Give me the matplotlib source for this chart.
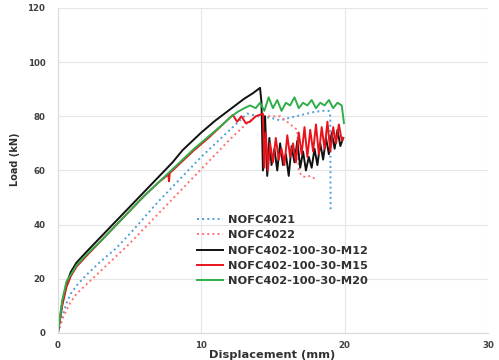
import matplotlib
matplotlib.use("Agg")
import matplotlib.pyplot as plt

# Load-displacement curves
x_4021 = [0, 0.3, 0.6, 0.9, 1.3, 2, 3, 4, 5, 6, 7, 8, 9, 10, 11, 12, 13.2,
          14.0, 14.8, 15.5, 16.2, 17.0, 17.8, 18.4, 18.9, 19.0, 19.02]
y_4021 = [0, 6, 11, 14.5, 17.5, 21.5, 26.5, 31, 36.5, 42.5, 48.5, 54, 59.5, 65,
          70, 75, 81, 80, 79.5, 78.5, 79.5, 80.5, 81.5, 82, 82, 80, 44.5]

x_4022 = [0, 0.3, 0.6, 0.9, 1.3, 2, 3, 4, 5, 6, 7, 8, 9, 10, 11, 12, 13, 13.9,
          14.6, 15.5, 16.1, 16.7, 16.8, 17.0, 17.3, 17.6, 17.9]
y_4022 = [0, 5, 8.5, 11.5, 14.5, 18, 23, 28, 33, 38.5, 44, 49.5, 55, 60.5, 66,
          71.5, 76.5, 80.5, 80, 80, 77.5, 75, 60, 58, 57.5, 58, 57]

x_m12 = [0, 0.3, 0.6, 0.9, 1.3, 2, 3, 4, 5, 6, 7, 8, 8.7, 10, 11, 12, 13, 13.6,
         14.1, 14.2, 14.3, 14.45, 14.6, 14.75, 14.9, 15.1, 15.3, 15.5, 15.7, 15.9,
         16.1, 16.3, 16.5, 16.7, 16.9, 17.1, 17.3, 17.5, 17.7, 17.9, 18.1, 18.3,
         18.5, 18.7, 18.9, 19.1, 19.3, 19.5, 19.7, 19.9]
y_m12 = [0, 11, 18, 22.5, 26, 30, 35.5, 41, 46.5, 52, 57.5, 63, 67.5, 74, 78.5,
         82.5, 86.5, 88.5, 90.5, 85, 60, 80, 58, 72, 62, 68, 60, 70, 62, 66, 58,
         69, 63, 71, 61, 67, 60, 65, 61, 68, 62, 70, 64, 72, 66, 74, 68, 75, 69,
         72]

x_m15 = [0, 0.3, 0.6, 0.9, 1.3, 2, 3, 4, 5, 6, 7, 7.7, 7.75, 7.8, 8.5, 9.5, 10.5,
         11.5, 11.9, 12.2, 12.5, 12.8, 13.1, 13.4, 13.8, 14.3, 14.4, 14.5, 14.65,
         14.8, 15.0, 15.2, 15.4, 15.6, 15.8, 16.0, 16.2, 16.4, 16.6, 16.8, 17.0,
         17.2, 17.4, 17.6, 17.8, 18.0, 18.2, 18.4, 18.6, 18.8, 19.0, 19.2, 19.4,
         19.6, 19.8, 19.9]
y_m15 = [0, 10, 17, 21, 24.5, 28.5, 34, 39.5, 45, 50.5, 55.5, 58.5, 56, 59, 62.5,
         67.5, 72, 77, 79, 80.5, 78, 80, 77.5, 78, 80, 81, 61, 74, 60, 70, 63, 72,
         64, 68, 62, 73, 65, 70, 63, 74, 66, 76, 65, 75, 67, 77, 66, 76, 68, 78,
         67, 76, 70, 77, 71, 72]

x_m20 = [0, 0.3, 0.6, 0.9, 1.3, 2, 3, 4, 5, 6, 7, 8, 8.5, 9.5, 10.5, 11.5, 12,
         12.5, 13, 13.4, 13.8, 14.1, 14.4, 14.7, 15.0, 15.3, 15.6, 15.9, 16.2,
         16.5, 16.8, 17.1, 17.4, 17.7, 18.0, 18.3, 18.6, 18.9, 19.2, 19.5, 19.8,
         19.95]
y_m20 = [0, 12, 19, 21.5, 25, 29, 34, 39.5, 45, 50.5, 55.5, 60.5, 63, 68, 72.5,
         77, 79.5, 81.5, 83, 84, 83, 85, 82, 87, 83, 86, 82, 85, 84, 87, 83, 85,
         84, 86, 83, 85, 84, 86, 83, 85, 84, 77.5]

series = [
    (x_4021, y_4021, "NOFC4021", "#4f9fd8", ":"),
    (x_4022, y_4022, "NOFC4022", "#ff7070", ":"),
    (x_m12, y_m12, "NOFC402-100-30-M12", "#111111", "-"),
    (x_m15, y_m15, "NOFC402-100-30-M15", "#e8141c", "-"),
    (x_m20, y_m20, "NOFC402-100-30-M20", "#2fae4a", "-"),
]

x_ticks = [0, 10, 20, 30]
y_ticks = [0, 20, 40, 60, 80, 100, 120]

plt.rcParams['font.family'] = ['DejaVu Sans']

fig = plt.figure(figsize=(4.99, 3.6), dpi=100)
ax = fig.add_axes([0.116, 0.075, 0.862, 0.903])

for xs, ys, label, color, ls in series:
    ax.plot(xs, ys, ls, color=color, lw=1.4, label=label)

ax.set_xlim(0, 30)
ax.set_ylim(0, 120)
ax.set_xticks(x_ticks)
ax.set_yticks(y_ticks)
ax.grid(True, color="#e6e6e6", lw=0.8)
ax.set_axisbelow(True)
for side in ["top", "right"]:
    ax.spines[side].set_visible(False)
for side in ["left", "bottom"]:
    ax.spines[side].set_color("#d9d9d9")
ax.tick_params(length=0, labelsize=6.2, colors="#404040")
ax.tick_params(axis="x", pad=6)
ax.tick_params(axis="y", pad=9)
for lab in ax.get_xticklabels() + ax.get_yticklabels():
    lab.set_fontweight("bold")

fig.text(15 / 499, 1 - 159 / 360, "Load (kN)", rotation=90, ha="center",
         va="center", fontsize=7, fontweight="bold", color="#303030")
fig.text(272 / 499, 1 - 355 / 360, "Displacement (mm)", ha="center",
         va="center", fontsize=8.2, fontweight="bold", color="#303030")

ax.legend(loc="upper left", bbox_to_anchor=(0.323, 0.362), frameon=False,
          handlelength=2.3, handletextpad=0.45, labelspacing=0.45,
          borderaxespad=0, borderpad=0,
          prop={"size": 8.2, "weight": "bold"}, labelcolor="#303030")

fig.savefig("out.png", dpi=100)
